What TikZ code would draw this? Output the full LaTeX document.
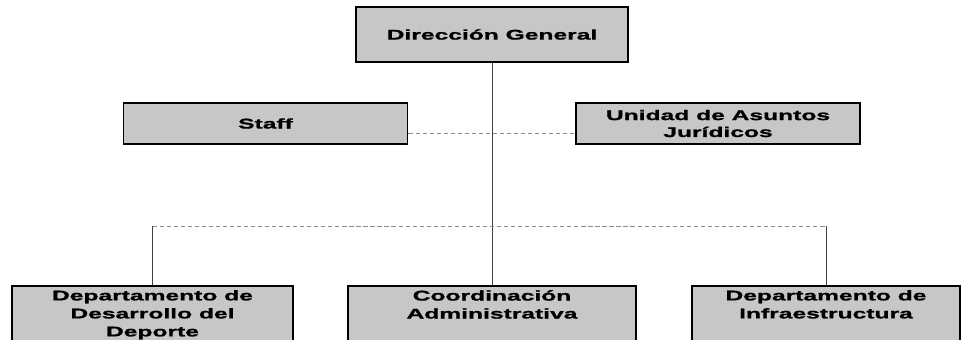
\documentclass[tikz,border=0pt]{standalone}
\usepackage{fontspec}
\newfontfamily\orgfont[FakeStretch=1.75,FakeBold=1.2]{Liberation Sans}
\usepackage{tikz}
\colorlet{boxC}{black!22}
\tikzstyle{obox}=[draw, line width=1.4pt, fill=boxC, shape=rectangle, font=\orgfont\bfseries, align=center, inner sep=1pt]
\tikzstyle{topbox}=[style=obox, minimum width=6.8cm, minimum height=1.375cm]
\tikzstyle{midbox}=[style=obox, minimum width=7.1cm, minimum height=1.025cm]
\tikzstyle{lowbox}=[style=obox, anchor=north, inner ysep=3pt, text depth=1.6cm, font=\orgfont\bfseries\fontsize{10}{12.8}\selectfont]
\tikzstyle{oline}=[line width=0.6pt, color=black!75]
\tikzstyle{odots}=[line width=0.6pt, densely dashed, color=black!45]
\def\topbox{\node[style=topbox]}
\def\midbox{\node[style=midbox]}
\def\lowbox{\node[style=lowbox]}
\def\oline{\draw[style=oline]}
\def\odots{\draw[style=odots]}

\begin{document}
\begin{tikzpicture}
      \useasboundingbox (0,0) rectangle (24.1,8.475);
      % top
      \topbox (dirgen) at (12.3,7.6125) {Dirección General};
      % staff level
      \midbox (staff)  at (6.6375,5.3875) {Staff};
      \midbox (juridi) at (17.95,5.3875)  {Unidad de Asuntos\\Jurídicos};
      % departments
      \lowbox (deporte) [minimum width=7.025cm] at (3.8125,1.35) {Departamento de\\Desarrollo del\\Deporte};
      \lowbox (coordad) [minimum width=7.2cm]   at (12.3,1.35)   {Coordinación\\Administrativa};
      \lowbox (infraes) [minimum width=6.7cm]   at (20.65,1.35)  {Departamento de\\Infraestructura};

      \coordinate (bus) at (12.3,2.825);

      \oline (dirgen.south) -- (coordad.north);
      \odots ([yshift=-0.24cm]staff.east) -- ([yshift=-0.24cm]juridi.west);
      \odots (deporte.north |- bus) -- (infraes.north |- bus);
      \oline (deporte.north |- bus) -- (deporte.north);
      \oline (infraes.north |- bus) -- (infraes.north);
\end{tikzpicture}
\end{document}
